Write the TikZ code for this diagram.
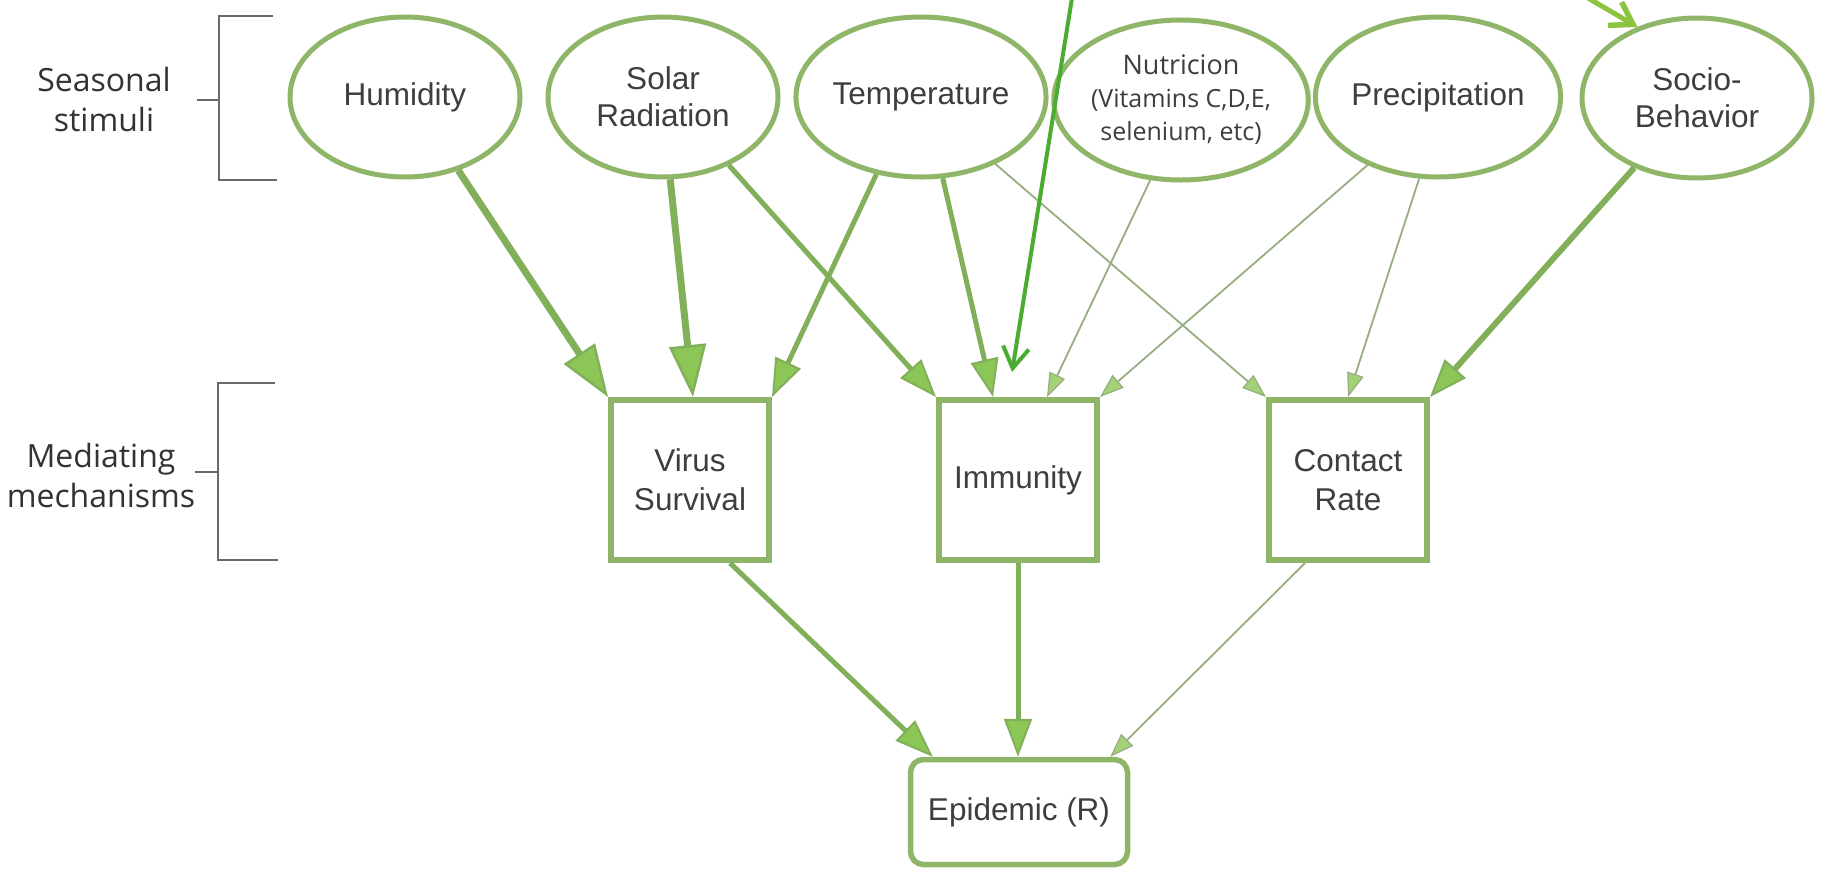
\documentclass[tikz,border=0pt]{standalone}
\usepackage{fontspec}
\setmainfont{Liberation Sans}
\newfontfamily\labelfont{Open Sans}
\usetikzlibrary{arrows.meta,shapes.geometric,calc}
\definecolor{edgegreen}{RGB}{143,182,104}
\definecolor{arrgreen}{RGB}{130,176,90}
\definecolor{thingreen}{RGB}{150,174,128}
\definecolor{headfill}{RGB}{140,198,86}
\definecolor{txt}{RGB}{62,62,62}
\definecolor{brk}{RGB}{105,105,105}
\definecolor{annot}{RGB}{76,172,50}
\definecolor{annottwo}{RGB}{141,196,63}
\begin{document}
\begin{tikzpicture}[x=1pt,y=-1pt,
  stim/.style={ellipse, draw=edgegreen, fill=white, line width=5pt, minimum width=230pt, minimum height=160pt, inner sep=0pt, align=center, text=txt, font=\fontsize{31.5}{37}\selectfont},
  mech/.style={rectangle, draw=edgegreen, fill=white, line width=6pt, minimum width=158pt, minimum height=160pt, inner sep=0pt, align=center, text=txt, font=\fontsize{31.5}{39}\selectfont},
  outc/.style={rectangle, rounded corners=13pt, draw=edgegreen, fill=white, line width=5.5pt, minimum width=217pt, minimum height=105pt, inner sep=0pt, align=center, text=txt, font=\fontsize{31.5}{37}\selectfont},
  sidelab/.style={align=center, text=black!80, inner sep=0pt, font=\labelfont\fontsize{32}{40}\selectfont},
  brack/.style={draw=brk, line width=2.5pt},
  heavyarr/.style={draw=arrgreen, line width=7pt, -{Triangle[length=52pt,width=37pt,fill=headfill,line width=2.5pt]}},
  midarr/.style={draw=arrgreen, line width=5pt, -{Triangle[length=38pt,width=28pt,fill=headfill,line width=2pt]}},
  lightarr/.style={draw=thingreen, line width=1.8pt, -{Triangle[length=24pt,width=17pt,fill=headfill!80!white,line width=1.2pt]}},
  annotarr/.style={draw=annot, line width=4pt, -{Straight Barb[length=21pt,width=26pt,line width=4pt]}},
  annottwoarr/.style={draw=annottwo, line width=5pt, line cap=round, -{Straight Barb[length=21pt,width=27pt,line width=5.5pt]}}
]
\fill[white] (0,0) rectangle (1825,873);
\useasboundingbox (0,0) rectangle (1825,873);

% side labels and brackets
\node[sidelab] (seas) at (104,99) {Seasonal\\stimuli};
\node[sidelab] (medi) at (101,475) {Mediating\\mechanisms};
\draw[brack] (273,16) -- (219,16) -- (219,180) -- (277,180);
\draw[brack] (197,100) -- (219,100);
\draw[brack] (275,383) -- (218,383) -- (218,560) -- (278,560);
\draw[brack] (195,472) -- (218,472);

% stimuli
\node[stim] (hum) at (405,97) {Humidity};
\node[stim] (sol) at (663,97) {Solar\\Radiation};
\node[stim] (tem) at (921,97) {Temperature};
\node[stim, font=\labelfont\fontsize{25}{33}\selectfont] (nut) at (1181,100) {{\fontsize{27}{33}\selectfont Nutricion}\\(Vitamins C,D,E,\\selenium, etc)};
\node[stim] (pre) at (1438,97) {Precipitation};
\node[stim] (soc) at (1697,98) {Socio-\\Behavior};

% mechanisms
\node[mech] (vs) at (690,480) {Virus\\Survival};
\node[mech] (imm) at (1018,480) {Immunity};
\node[mech] (cr) at (1348,480) {Contact\\Rate};
\node[outc] (epi) at (1019,812) {Epidemic (R)};

% stimuli -> mechanisms
\draw[heavyarr] (hum.-54) -- (vs.north west);
\draw[heavyarr] (sol.-85) -- ($(vs.north)+(3,0)$);
\draw[midarr] (tem.-120) -- (vs.north east);
\draw[midarr] (sol.-46) -- (imm.north west);
\draw[midarr] (tem.-75) -- ($(imm.north)+(-25,0)$);
\draw[lightarr] (tem.-42) -- (cr.north west);
\draw[lightarr] (nut.-111) -- ($(imm.north)+(29,0)$);
\draw[lightarr] (pre.-136) -- (imm.north east);
\draw[lightarr] (pre.-103) -- (cr.north);
\draw[midarr, line width=6pt] (soc.-132) -- (cr.north east);

% mechanisms -> epidemic
\draw[midarr] ($(vs.south)+(40,0)$) -- ($(epi.north west)+(25,0)$);
\draw[midarr] (imm.south) -- (imm.south |- epi.north);
\draw[lightarr] ($(cr.south)+(-43,0)$) -- ($(epi.north east)+(-20,0)$);

% annotation arrows
\coordinate (gtop) at (1072,-2);
\coordinate (gtip) at ($(imm.north)+(-6,-25)$);
\draw[annotarr] (gtop) -- (gtip);
\coordinate (ytop) at (1588,-2);
\draw[annottwoarr] (ytop) -- (soc.130);
\end{tikzpicture}
\end{document}
